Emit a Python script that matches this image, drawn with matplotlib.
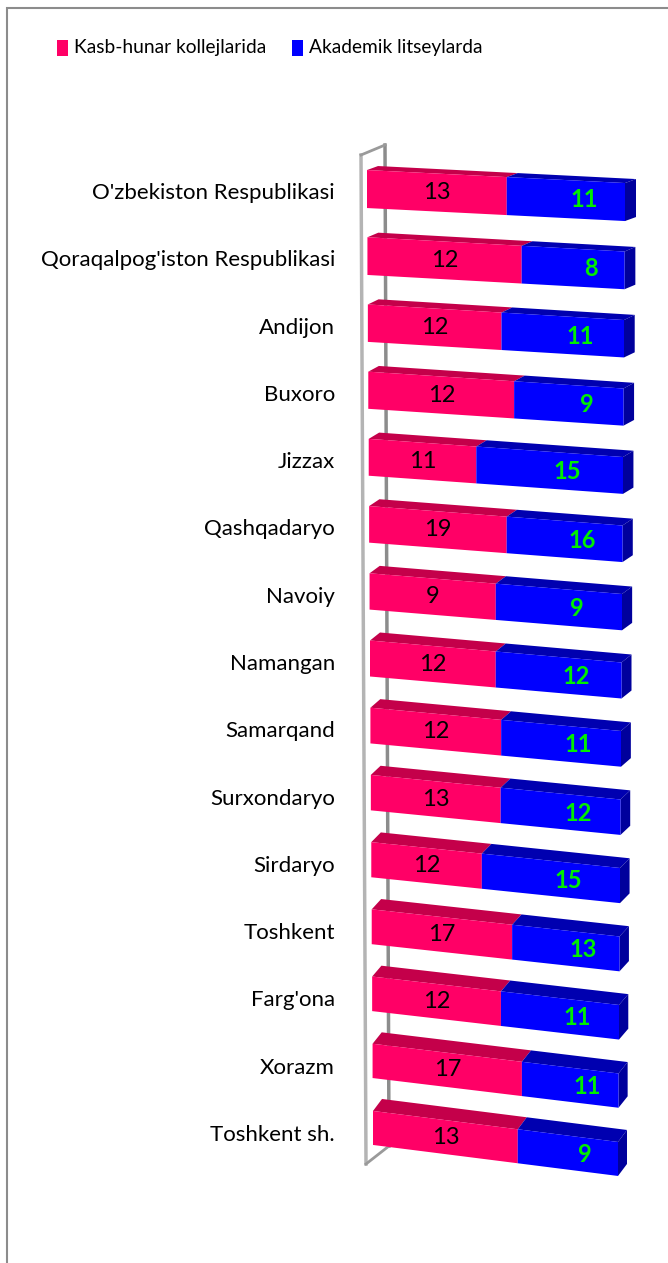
import numpy as np
import matplotlib
matplotlib.use('Agg')
import matplotlib.pyplot as plt
from matplotlib.patches import Polygon, Rectangle

plt.rcParams['font.family'] = ['Lato', 'DejaVu Sans']

regions = ["O'zbekiston Respublikasi", "Qoraqalpog'iston Respublikasi", "Andijon",
           "Buxoro", "Jizzax", "Qashqadaryo", "Navoiy", "Namangan", "Samarqand",
           "Surxondaryo", "Sirdaryo", "Toshkent", "Farg'ona", "Xorazm", "Toshkent sh."]
kollej = [13, 12, 12, 12, 11, 19, 9, 12, 12, 13, 12, 17, 12, 17, 13]
litsey = [11, 8, 11, 9, 15, 16, 9, 12, 11, 12, 15, 13, 11, 11, 9]
series_names = ["Kasb-hunar kollejlarida", "Akademik litseylarda"]

red_front, red_top = '#FF0066', '#C4004A'
blue_front, blue_top, blue_side = '#0000FF', '#0000B0', '#00009C'

W, H = 668, 1263
fig = plt.figure(figsize=(W / 100, H / 100), dpi=100)

# axes placed so that share 0..1 spans the front of the bars
ax_top, ax_bot = 159.4, 1168.6
ax = fig.add_axes([367 / W, 1 - ax_bot / H, 258 / W, (ax_bot - ax_top) / H])
ax.set_xlim(0, 1)
ax.set_ylim(len(regions) - 0.5, -0.5)
ax.axis('off')
ux, uy = 258.0, (ax_bot - ax_top) / len(regions)  # pixels per data unit


def px(xp, yp):
    return (xp - 367) / ux, (yp - ax_top) / uy - 0.5


# back wall of the 3D chart
wall_front = [px(361, 155), px(366, 1164)]
wall_back = [px(385, 145), px(389, 1146)]
ax.plot([wall_front[0][0], wall_front[1][0]], [wall_front[0][1], wall_front[1][1]],
        color='#B4B4B4', lw=2.5, clip_on=False, zorder=1)
ax.plot([wall_back[0][0], wall_back[1][0]], [wall_back[0][1], wall_back[1][1]],
        color='#8C8C8C', lw=2.5, clip_on=False, zorder=1)
for a, b in [(wall_front[0], wall_back[0]), (wall_front[1], wall_back[1])]:
    ax.plot([a[0], b[0]], [a[1], b[1]], color='#9A9A9A', lw=2, clip_on=False, zorder=1)

n = len(regions)
for i in range(n):
    t = i / (n - 1)
    xl = 6 * t / ux
    s = 1 - 13 * t / ux
    yc = i - (4 + 3 * t) / uy
    k = (13 + 18 * t) / uy
    h = (19 - 2 * t) / uy
    dx = (11 - 2 * t) / ux
    dy = -(4 + 8 * t) / uy

    def X(u):
        return xl + s * u

    def Y(u):
        return yc + k * u

    total = kollej[i] + litsey[i]
    split = kollej[i] / total
    segs = [(0, split, red_front, red_top), (split, 1, blue_front, blue_top)]
    for u0, u1, fc, tc in segs:
        front = [(X(u0), Y(u0) - h), (X(u1), Y(u1) - h), (X(u1), Y(u1) + h), (X(u0), Y(u0) + h)]
        top = [(X(u0), Y(u0) - h), (X(u1), Y(u1) - h),
               (X(u1) + dx, Y(u1) - h + dy), (X(u0) + dx, Y(u0) - h + dy)]
        ax.add_patch(Polygon(top, closed=True, fc=tc, ec='none', zorder=3, clip_on=False))
        ax.add_patch(Polygon(front, closed=True, fc=fc, ec='none', zorder=4, clip_on=False))
    side = [(X(1), Y(1) - h), (X(1) + dx, Y(1) - h + dy),
            (X(1) + dx, Y(1) + h + dy), (X(1), Y(1) + h)]
    ax.add_patch(Polygon(side, closed=True, fc=blue_side, ec='none', zorder=3, clip_on=False))

    um = split / 2
    ax.text(X(um), Y(um), str(kollej[i]), ha='center', va='center',
            fontsize=17, color='black', zorder=5)
    ub = (split + 1) / 2 + 0.07
    ax.text(X(ub), Y(ub), str(litsey[i]), ha='center', va='center',
            fontsize=17, fontweight='bold', color='#00EE00', zorder=5)

    ax.text(px(335, 0)[0], i, regions[i], ha='right', va='center',
            fontsize=16, color='black', clip_on=False)

# chart area border (cut off on the right and bottom)
fig.add_artist(Rectangle((7 / W, -0.05), 1.5, 1 - 8 / H + 0.05, transform=fig.transFigure,
                         fill=False, ec='#8C8C8C', lw=1.5))

# legend
for (xs, xt), name, col in zip([(57, 74), (292, 309)], series_names, [red_front, blue_front]):
    fig.add_artist(Rectangle((xs / W, 1 - 56 / H), 11 / W, 16 / H,
                             transform=fig.transFigure, fc=col, ec='none'))
    fig.text(xt / W, 1 - 48 / H, name, ha='left', va='center', fontsize=13.8, color='black')

fig.savefig('out.png', dpi=100, facecolor='white')
